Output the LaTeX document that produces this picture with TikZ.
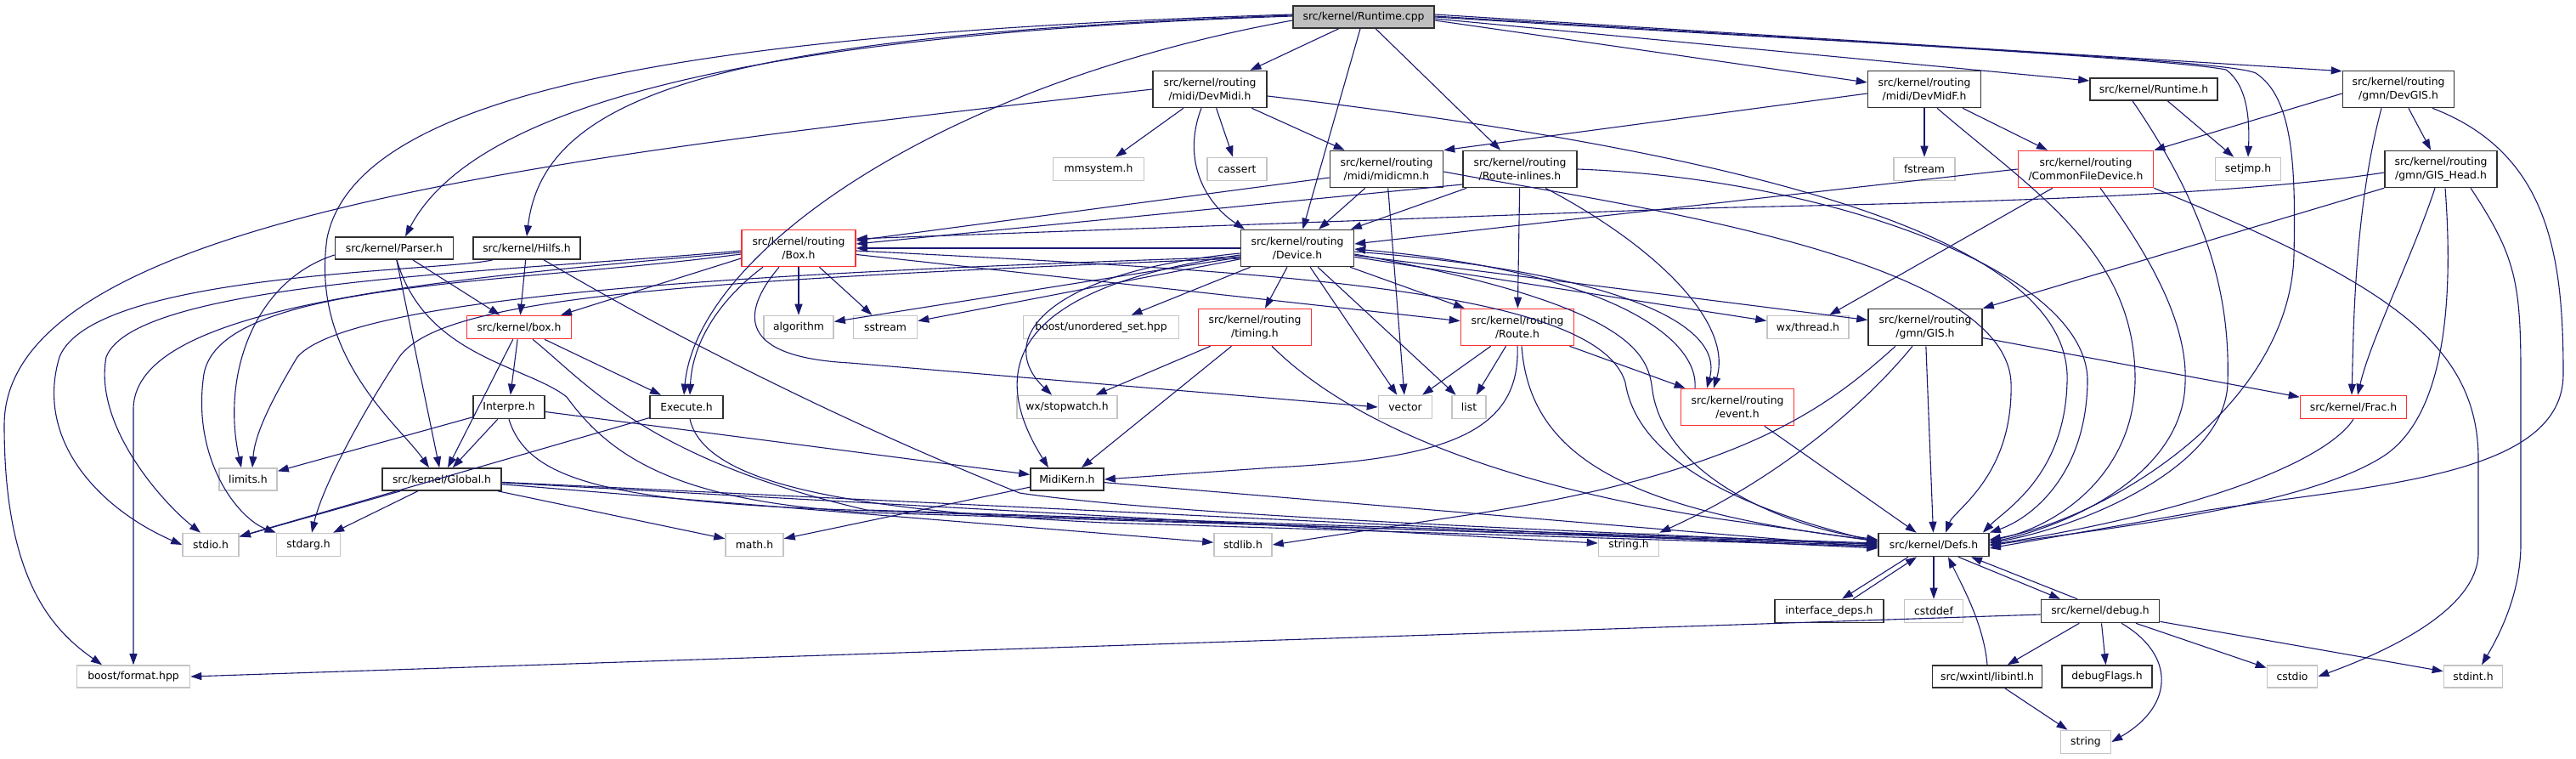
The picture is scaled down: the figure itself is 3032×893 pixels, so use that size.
\documentclass[tikz,border=0pt]{standalone}
\usepackage{fontspec}
\setmainfont{DejaVu Sans}
\usetikzlibrary{arrows.meta}
\definecolor{edgec}{HTML}{191970}
\definecolor{redc}{HTML}{FF3030}
\definecolor{extc}{HTML}{C4C4C4}
\definecolor{mainc}{HTML}{BFBFBF}
\definecolor{docc}{HTML}{303030}
\newcommand\nd[7]{\node[#6, minimum width=#4pt, minimum height=#5pt] (#1) at (#2,#3) {#7};}
\begin{document}
\begin{tikzpicture}[x=1pt,y=-1pt,
  base/.style={rectangle, inner sep=0pt, line width=1.6pt, font=\fontsize{12.4}{16}\selectfont, align=center},
  doc/.style={base, draw=docc, fill=white},
  trunc/.style={base, draw=redc, fill=white},
  ext/.style={base, draw=extc, fill=white},
  mainn/.style={base, draw=docc, fill=mainc},
  e/.style={draw=edgec, line width=1.1pt, -{Triangle[length=13pt,width=9pt]}}]
\fill[white] (0,0) rectangle (3032,893);
\useasboundingbox (0,0) rectangle (3032,893);
% nodes
\nd{rt}{1605}{20}{166}{26}{mainn}{src/kernel/Runtime.cpp}
\nd{devmidi}{1424}{105}{134}{43}{doc}{src/kernel/routing\\/midi/DevMidi.h}
\nd{mmsys}{1293}{199}{107}{27}{ext}{mmsystem.h}
\nd{cassert}{1456}{199}{70}{27}{ext}{cassert}
\nd{midicmn}{1632}{199}{133}{43}{doc}{src/kernel/routing\\/midi/midicmn.h}
\nd{rtinl}{1789}{199}{134}{43}{doc}{src/kernel/routing\\/Route-inlines.h}
\nd{device}{1527}{292}{133}{43}{doc}{src/kernel/routing\\/Device.h}
\nd{Box}{940}{292}{134}{43}{trunc}{src/kernel/routing\\/Box.h}
\nd{parser}{464}{292}{139}{26}{doc}{src/kernel/Parser.h}
\nd{hilfs}{620}{292}{126}{26}{doc}{src/kernel/Hilfs.h}
\nd{boxk}{611}{385}{123}{27}{trunc}{src/kernel/box.h}
\nd{algorithm}{940}{385}{82}{27}{ext}{algorithm}
\nd{sstream}{1042}{385}{75}{27}{ext}{sstream}
\nd{unord}{1296}{385}{183}{27}{ext}{boost/unordered\_set.hpp}
\nd{timing}{1477}{385}{133}{43}{trunc}{src/kernel/routing\\/timing.h}
\nd{route}{1786}{385}{133}{43}{trunc}{src/kernel/routing\\/Route.h}
\nd{devmidf}{2265}{105}{133}{43}{doc}{src/kernel/routing\\/midi/DevMidF.h}
\nd{runh}{2535}{105}{150}{26}{doc}{src/kernel/Runtime.h}
\nd{devgis}{2823}{105}{131}{43}{doc}{src/kernel/routing\\/gmn/DevGIS.h}
\nd{fstream}{2265}{199}{72}{27}{ext}{fstream}
\nd{cfd}{2455}{199}{159}{43}{trunc}{src/kernel/routing\\/CommonFileDevice.h}
\nd{setjmp}{2646}{199}{77}{27}{ext}{setjmp.h}
\nd{gishead}{2873}{199}{132}{43}{doc}{src/kernel/routing\\/gmn/GIS\_Head.h}
\nd{wxthread}{2128}{385}{96}{27}{ext}{wx/thread.h}
\nd{gis}{2266}{385}{134}{43}{doc}{src/kernel/routing\\/gmn/GIS.h}
\nd{frac}{2770}{479}{125}{27}{trunc}{src/kernel/Frac.h}
\nd{event}{2045}{479}{133}{43}{trunc}{src/kernel/routing\\/event.h}
\nd{vector}{1654}{479}{63}{27}{ext}{vector}
\nd{list}{1729}{479}{40}{27}{ext}{list}
\nd{stopwatch}{1256}{479}{118}{27}{ext}{wx/stopwatch.h}
\nd{midikern}{1256}{564}{86}{26}{doc}{MidiKern.h}
\nd{execute}{808}{479}{86}{27}{doc}{Execute.h}
\nd{interpre}{599}{479}{84}{27}{doc}{Interpre.h}
\nd{limits}{292}{564}{68}{26}{ext}{limits.h}
\nd{global}{520}{564}{140}{26}{doc}{src/kernel/Global.h}
\nd{stdio}{248}{641}{66}{27}{ext}{stdio.h}
\nd{stdarg}{363}{641}{75}{27}{ext}{stdarg.h}
\nd{math}{888}{641}{68}{27}{ext}{math.h}
\nd{stdlib}{1463}{641}{68}{27}{ext}{stdlib.h}
\nd{stringh}{1917}{641}{71}{27}{ext}{string.h}
\nd{defs}{2276}{641}{130}{27}{doc}{src/kernel/Defs.h}
\nd{ifdeps}{2153}{719}{128}{27}{doc}{interface\_deps.h}
\nd{cstddef}{2276}{719}{69}{27}{ext}{cstddef}
\nd{debug}{2472}{719}{139}{27}{doc}{src/kernel/debug.h}
\nd{libintl}{2339}{796}{129}{26}{doc}{src/wxintl/libintl.h}
\nd{dbgflags}{2480}{796}{106}{26}{doc}{debugFlags.h}
\nd{string}{2455}{873}{59}{27}{ext}{string}
\nd{cstdio}{2698}{796}{59}{26}{ext}{cstdio}
\nd{stdint}{2911}{796}{69}{26}{ext}{stdint.h}
\nd{bformat}{157}{796}{133}{26}{ext}{boost/format.hpp}
% ---- edges: Runtime.cpp
\draw[e] (rt) -- (devmidi);
\draw[e] (rt) -- (device);
\draw[e] (rt) -- (rtinl);
\draw[e] ([yshift=-4pt]rt.east) -- ([yshift=8pt]devmidf.west);
\draw[e] ([yshift=-2pt]rt.east) -- ([yshift=10pt]runh.west);
\draw[e] ([yshift=3pt]rt.east) -- ([yshift=-1pt]devgis.north west);
\draw[e] ([yshift=1pt]rt.east) .. controls (2200,50) and (2560,70) .. (2620,82) .. controls (2645,100) and (2648,140) .. (setjmp.north);
\draw[e] ([yshift=0pt]rt.east) .. controls (2200,52) and (2620,70) .. (2655,86) .. controls (2700,115) and (2702,200) .. (2700,300) .. controls (2695,480) and (2480,610) .. ([yshift=6pt]defs.east);
\draw[e] ([yshift=1pt]rt.west) .. controls (900,40) and (560,120) .. ([xshift=13pt]parser.north);
\draw[e] ([yshift=2pt]rt.west) .. controls (850,42) and (640,110) .. (hilfs.north);
\draw[e] ([yshift=3pt]rt.west) .. controls (800,40) and (420,110) .. (385,280) .. controls (365,420) and (470,500) .. ([xshift=-15pt]global.north);
\draw[e] ([yshift=-4pt]rt.west) .. controls (1100,100) and (820,300) .. ([xshift=-3pt]execute.north);
% DevMidi
\draw[e] (devmidi) -- (mmsys);
\draw[e] (devmidi) -- (cassert);
\draw[e] (devmidi) -- (midicmn);
\draw[e] ([xshift=-10pt]devmidi.south) .. controls (1390,190) and (1420,240) .. ([xshift=-62pt]device.north);
\draw[e] (devmidi.west) .. controls (700,180) and (5,250) .. (5,500) .. controls (5,680) and (60,740) .. ([xshift=-37pt]bformat.north);
\draw[e] ([yshift=-8pt]devmidi.east) .. controls (2150,190) and (2440,300) .. (2433,450) .. controls (2430,560) and (2360,600) .. ([xshift=-8pt]defs.north east);
% midicmn
\draw[e] (midicmn) -- (device);
\draw[e] ([yshift=-10pt]midicmn.west) -- ([yshift=9pt]Box.east);
\draw[e] (midicmn) -- (vector);
\draw[e] ([yshift=-3pt]midicmn.east) .. controls (1900,240) and (2360,300) .. (2367,450) .. controls (2370,560) and (2300,600) .. ([xshift=14pt]defs.north);
% Route-inlines
\draw[e] (rtinl) -- (device);
\draw[e] ([yshift=-18pt]rtinl.west) -- ([yshift=5pt]Box.east);
\draw[e] (rtinl) -- (route);
\draw[e] ([xshift=30pt]rtinl.south) .. controls (1950,290) and (2040,380) .. ([xshift=-28pt]event.north);
\draw[e] (rtinl.east) .. controls (2150,210) and (2460,320) .. (2457,450) .. controls (2455,560) and (2390,610) .. (defs.north east);
% Device
\draw[e] (device) -- (Box);
\draw[e] (device) -- (route);
\draw[e] (device) -- (timing);
\draw[e] (device) -- (unord);
\draw[e] (device) -- (sstream);
\draw[e] (device) -- (algorithm);
\draw[e] ([yshift=-6pt]device.west) .. controls (1230,320) and (1170,400) .. ([xshift=-18pt]stopwatch.north);
\draw[e] ([yshift=-8pt]device.west) .. controls (1180,340) and (1165,440) .. ([xshift=-22pt]midikern.north);
\draw[e] (device) -- (vector);
\draw[e] (device) -- (list);
\draw[e] (device) -- (wxthread);
\draw[e] (device) -- (gis);
\draw[e] ([yshift=-10pt]device.west) .. controls (1000,318) and (420,340) .. (350,420) .. controls (320,470) and (300,510) .. ([xshift=5pt]limits.north);
\draw[e] ([yshift=-12pt]device.west) .. controls (800,330) and (520,350) .. (470,420) .. controls (430,480) and (380,570) .. ([xshift=4pt]stdarg.north);
\draw[e] ([yshift=-4pt]device.east) .. controls (1900,320) and (2030,380) .. ([xshift=-36pt]event.north);
\draw[e] ([xshift=-50pt]event.north) .. controls (2000,400) and (1900,320) .. ([yshift=-1pt]device.east);
\draw[e] ([yshift=-7pt]device.east) .. controls (1930,360) and (1940,420) .. (1945,460) .. controls (1960,560) and (2100,620) .. ([yshift=6pt]defs.west);
% Box.h
\draw[e] ([yshift=-12pt]Box.west) -- ([xshift=49pt]boxk.north);
\draw[e] ([xshift=-42pt]Box.south) .. controls (850,350) and (815,400) .. ([xshift=4pt]execute.north);
\draw[e] (Box) -- (algorithm);
\draw[e] (Box) -- (sstream);
\draw[e] ([xshift=-23pt]Box.south) .. controls (870,370) and (870,420) .. (1000,427) -- (vector.west);
\draw[e] (Box) -- (route);
\draw[e] ([yshift=-3pt]Box.east) .. controls (1500,320) and (1880,340) .. (1913,450) .. controls (1930,560) and (2100,610) .. ([yshift=3pt]defs.west);
\draw[e] ([yshift=-3pt]Box.west) .. controls (600,320) and (160,330) .. (125,420) .. controls (110,500) and (190,590) .. ([xshift=-12pt]stdio.north);
\draw[e] ([yshift=-5pt]Box.west) .. controls (500,330) and (160,360) .. (157,480) -- (bformat.north);
\draw[e] ([yshift=-7pt]Box.west) .. controls (600,335) and (260,330) .. (240,440) .. controls (225,540) and (280,610) .. (stdarg.north west);
% Parser
\draw[e] ([yshift=-8pt]parser.west) .. controls (300,330) and (260,440) .. ([xshift=-8pt]limits.north);
\draw[e] (parser) -- (boxk);
\draw[e] (parser) -- (global);
\draw[e] ([xshift=3pt]parser.south) .. controls (500,420) and (620,430) .. (667,467) .. controls (720,540) and (800,590) .. (1020,603) -- ([yshift=1pt]defs.west);
% Hilfs
\draw[e] (hilfs) -- (boxk);
\draw[e] ([xshift=-40pt]hilfs.south) .. controls (520,320) and (110,320) .. (70,420) .. controls (40,520) and (120,600) .. (stdio.west);
\draw[e] ([xshift=20pt]hilfs.south) .. controls (800,400) and (1000,500) .. (1200,580) .. controls (1400,610) and (2000,630) .. ([yshift=0pt]defs.west);
% box.h
\draw[e] (boxk) -- (interpre);
\draw[e] (boxk) -- (global);
\draw[e] (boxk) -- (execute);
\draw[e] ([xshift=16pt]boxk.south) .. controls (690,450) and (760,540) .. (1020,600) -- ([yshift=2pt]defs.west);
% Interpre
\draw[e] (interpre) -- (limits);
\draw[e] (interpre) -- (global);
\draw[e] (interpre) -- (midikern);
\draw[e] (interpre.south) .. controls (620,560) and (700,590) .. (1000,600) -- ([yshift=-1pt]defs.west);
% Execute
\draw[e] (execute) -- (stdio);
\draw[e] ([xshift=4pt]execute.south) .. controls (830,570) and (1000,600) .. (1300,615) -- ([yshift=-2pt]defs.west);
% Global
\draw[e] (global) -- (stdio);
\draw[e] (global) -- (stdarg);
\draw[e] (global) -- (math);
\draw[e] (global) -- (stdlib);
\draw[e] (global) -- (stringh);
\draw[e] (global) -- ([yshift=-4pt]defs.west);
% MidiKern
\draw[e] (midikern) -- (math);
\draw[e] (midikern) -- ([yshift=-3pt]defs.west);
% timing
\draw[e] (timing) -- (stopwatch);
\draw[e] (timing) -- (midikern);
\draw[e] ([xshift=20pt]timing.south) .. controls (1560,470) and (1700,560) .. (2020,610) -- ([yshift=4pt]defs.west);
% Route
\draw[e] (route) -- (vector);
\draw[e] (route) -- (list);
\draw[e] (route) -- (event);
\draw[e] (route.south) .. controls (1790,510) and (1700,540) .. (1500,550) -- (midikern.east);
\draw[e] ([xshift=5pt]route.south) .. controls (1800,530) and (1900,600) .. ([yshift=5pt]defs.west);
% event
\draw[e] (event) -- (defs);
% DevMidF
\draw[e] (devmidf) -- (fstream);
\draw[e] (devmidf) -- (cfd);
\draw[e] ([yshift=-5pt]devmidf.west) -- (midicmn.north east);
\draw[e] ([xshift=15pt]devmidf.south) .. controls (2400,230) and (2515,300) .. (2513,450) .. controls (2510,560) and (2420,620) .. ([yshift=5pt]defs.east);
% Runtime.h
\draw[e] (runh) -- (setjmp);
\draw[e] ([xshift=-25pt]runh.south) .. controls (2600,250) and (2625,350) .. (2622,450) .. controls (2620,550) and (2450,620) .. ([yshift=2pt]defs.east);
% DevGIS
\draw[e] ([yshift=-5pt]devgis.west) -- (cfd.north east);
\draw[e] (devgis) -- (gishead);
\draw[e] ([xshift=-20pt]devgis.south) .. controls (2770,250) and (2770,400) .. ([xshift=-2pt]frac.north);
\draw[e] ([xshift=40pt]devgis.south) .. controls (3000,180) and (3017,300) .. (3017,440) .. controls (3017,560) and (2800,570) .. (2600,600) -- ([yshift=-4pt]defs.east);
% CommonFileDevice
\draw[e] (cfd.west) -- ([yshift=5pt]device.east);
\draw[e] (cfd) -- (wxthread);
\draw[e] ([xshift=17pt]cfd.south) .. controls (2530,300) and (2575,380) .. (2572,450) .. controls (2570,560) and (2430,620) .. ([yshift=3pt]defs.east);
\draw[e] (cfd.south east) .. controls (2800,330) and (2917,400) .. (2917,540) -- (2917,650) .. controls (2917,720) and (2800,770) .. (cstdio.east);
% GIS_Head
\draw[e] ([yshift=-4pt]gishead.west) .. controls (2600,235) and (2200,240) .. (2000,245) -- ([yshift=11pt]Box.east);
\draw[e] (gishead.south west) -- (gis.north east);
\draw[e] ([xshift=-7pt]gishead.south) .. controls (2840,300) and (2790,400) .. ([xshift=5pt]frac.north);
\draw[e] ([xshift=5pt]gishead.south) .. controls (2890,380) and (2870,500) .. (2800,540) .. controls (2700,600) and (2450,625) .. ([yshift=-1pt]defs.east);
\draw[e] ([xshift=35pt]gishead.south) .. controls (2960,300) and (2967,330) .. (2967,440) -- (2967,640) .. controls (2967,700) and (2940,750) .. ([xshift=10pt]stdint.north);
% GIS
\draw[e] (gis) -- (frac);
\draw[e] (gis) -- (defs);
\draw[e] ([xshift=-35pt]gis.south) .. controls (2150,480) and (2050,560) .. (1700,610) -- (stdlib.east);
\draw[e] ([xshift=-15pt]gis.south) .. controls (2200,470) and (2100,560) .. (stringh.north east);
% Frac
\draw[e] (frac.south) .. controls (2740,540) and (2600,600) .. ([yshift=0pt]defs.east);
% Defs and below
\draw[e] ([xshift=-30pt]defs.south) -- ([xshift=15pt]ifdeps.north);
\draw[e] ([xshift=28pt]ifdeps.north) -- ([xshift=-20pt]defs.south);
\draw[e] (defs) -- (cstddef);
\draw[e] ([xshift=29pt]defs.south) -- ([xshift=-47pt]debug.north);
\draw[e] ([xshift=-27pt]debug.north) -- ([xshift=44pt]defs.south);
\draw[e] (debug) -- (libintl);
\draw[e] (debug) -- (dbgflags);
\draw[e] (debug) -- (cstdio);
\draw[e] (debug) -- (stdint);
\draw[e] ([xshift=25pt]debug.south) .. controls (2560,770) and (2560,830) .. (string.east);
\draw[e] ([yshift=-4pt]debug.west) -- (bformat.east);
\draw[e] (libintl) -- (string);
\draw[e] (libintl.north) .. controls (2335,735) and (2310,690) .. ([xshift=17pt]defs.south);
\end{tikzpicture}
\end{document}
